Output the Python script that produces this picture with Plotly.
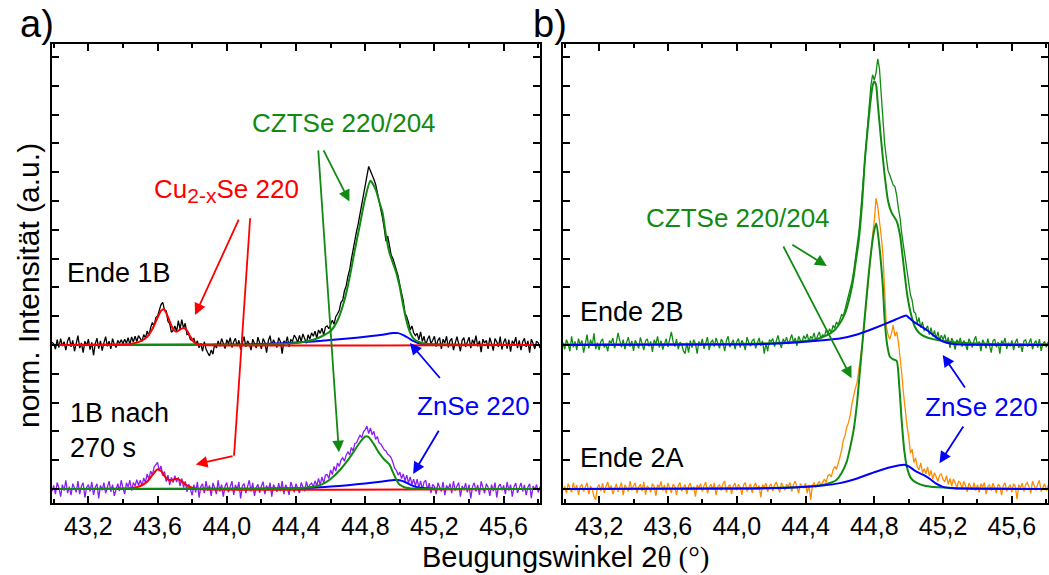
import numpy as np
import plotly.graph_objects as go

# ---------------- data ----------------
TT_START = 42.99     # 2theta of first measured point (deg)
TT_STEP = 0.01       # measurement step (deg)
OFFSET_TOP = 5.0     # vertical offset of upper curves (a.u.)
OFFSET_BOTTOM = 0.0

X_TICK_VALUES = [43.2, 43.6, 44.0, 44.4, 44.8, 45.2, 45.6]
X_TICK_LABELS = ["43,2", "43,6", "44,0", "44,4", "44,8", "45,2", "45,6"]

# Ende 1B, measured (normalised)
ende1b_meas = [
    0.09,
    0.04, -0.15, 0.18, -0.09, 0.22, -0.04, 0.11, -0.18, 0.14, 0.27,
    -0.07, 0.16, -0.22, 0.05, 0.32, -0.11, 0.07, -0.27, 0.13, -0.04,
    0.20, -0.16, 0.09, -0.36, 0.04, 0.23, -0.13, 0.14, -0.20, 0.07,
    0.29, -0.05, 0.13, -0.14, 0.22, 0.02, -0.09, 0.16, 0.05, 0.18,
    0.04, 0.20, 0.06, 0.25, 0.02, 0.28, 0.10, 0.30, 0.12, 0.32,
    0.22, 0.12, 0.36, 0.24, 0.48, 0.32, 0.60, 0.78, 0.66, 0.95,
    1.00, 1.18, 1.40, 1.48, 1.22, 1.18, 0.82, 0.74, 0.44, 0.50,
    0.66, 0.46, 0.84, 0.55, 0.88, 0.58, 0.75, 0.36, 0.38, 0.18,
    0.16, 0.22, 0.02, 0.14, -0.10, 0.05, -0.22, 0.11, -0.14, -0.27,
    -0.38, -0.18, -0.32, 0.04, -0.11, 0.14, -0.05, 0.22, 0.07, -0.13,
    0.18, 0.04, 0.25, -0.09, 0.11, 0.23, -0.04, 0.16, -0.16, 0.09,
    0.29, -0.07, 0.14, 0.04, -0.18, 0.20, 0.07, -0.11, 0.27, 0.02,
    -0.14, 0.22, 0.09, -0.27, 0.14, 0.32, -0.04, 0.18, 0.05, -0.09,
    0.25, 0.11, -0.30, 0.14, 0.04, 0.29, -0.07, 0.18, 0.13, 0.34,
    0.24, 0.08, 0.33, 0.12, 0.38, 0.18, 0.06, 0.35, 0.20, 0.42,
    0.30, 0.48, 0.24, 0.52, 0.40, 0.58, 0.34, 0.62, 0.66, 0.56,
    0.72, 0.86, 0.72, 0.98, 1.08, 1.20, 1.48, 1.55, 1.88, 2.05,
    2.38, 2.60, 2.98, 3.35, 3.58, 3.95, 4.22, 4.55, 4.88, 5.20,
    5.40, 5.85, 6.20, 6.05, 5.92, 5.75, 5.58, 5.30, 5.02, 4.75,
    4.42, 4.05, 3.60, 3.78, 3.45, 3.12, 3.00, 2.82, 2.65, 2.40,
    2.08, 1.85, 1.52, 1.10, 0.98, 0.78, 0.52, 0.66, 0.42, 0.32,
    0.40, 0.18, 0.45, 0.12, 0.30, -0.02, 0.20, 0.32, 0.04, 0.16,
    0.30, -0.06, 0.16, 0.25, -0.14, 0.20, 0.06, 0.30, -0.09, 0.14,
    0.23, -0.18, 0.11, 0.29, 0.04, -0.22, 0.16, 0.25, -0.07, 0.13,
    0.27, -0.11, 0.18, 0.04, 0.32, -0.05, 0.14, -0.25, 0.20, 0.07,
    0.16, -0.14, 0.25, 0.05, -0.20, 0.22, 0.11, -0.07, 0.29, -0.16,
    0.09, 0.22, -0.13, 0.18, -0.23, 0.14, 0.04, 0.27, -0.11, 0.16,
    -0.18, 0.11, 0.23, -0.07, 0.14, -0.27, 0.20, 0.05, -0.14, 0.13,
    0.07, -0.11,
]

# 1B nach 270 s, measured
nach_meas = [
    -0.08,
    0.12, -0.18, 0.22, 0.03, -0.27, 0.15, -0.06, 0.30, -0.15, 0.08,
    -0.22, 0.18, 0.00, -0.12, 0.27, -0.18, 0.09, 0.21, -0.30, 0.05,
    0.15, -0.09, 0.24, -0.21, 0.06, 0.18, -0.33, 0.12, -0.05, 0.22,
    -0.15, 0.08, 0.27, -0.10, 0.15, -0.24, 0.03, 0.18, -0.08, 0.30,
    0.03, -0.18, 0.21, 0.07, 0.30, -0.06, 0.22, 0.10, 0.32, 0.12,
    0.30, 0.10, 0.38, 0.22, 0.52, 0.34, 0.62, 0.48, 0.76, 0.85,
    0.92, 0.62, 0.80, 0.46, 0.60, 0.25, 0.48, 0.14, 0.40, 0.22,
    0.46, 0.24, 0.40, 0.10, 0.36, 0.05, 0.26, -0.10, 0.16, -0.02,
    -0.22, 0.15, -0.12, 0.24, -0.30, 0.08, 0.18, -0.15, 0.27, -0.06,
    0.12, -0.24, 0.21, 0.03, -0.18, 0.30, -0.09, 0.15, -0.27, 0.09,
    0.22, -0.12, 0.06, 0.27, -0.21, 0.14, -0.03, 0.24, -0.33, 0.10,
    0.18, -0.15, 0.08, 0.30, -0.09, 0.21, -0.24, 0.05, 0.16, -0.14,
    0.09, 0.25, -0.18, 0.12, -0.06, 0.22, -0.27, 0.15, 0.03, -0.10,
    0.20, -0.08, 0.27, -0.18, 0.14, 0.02, -0.21, 0.24, 0.06, -0.12,
    0.18, 0.02, -0.15, 0.22, 0.08, -0.08, 0.26, 0.03, 0.14, 0.20,
    0.08, 0.28, 0.10, 0.36, 0.14, 0.42, 0.20, 0.48, 0.50, 0.36,
    0.66, 0.50, 0.78, 0.62, 0.90, 0.78, 1.00, 1.08, 0.96, 1.18,
    1.28, 1.18, 1.44, 1.32, 1.58, 1.60, 1.74, 1.86, 1.78, 1.98,
    2.06, 2.18, 1.92, 2.12, 1.88, 2.00, 1.72, 1.82, 1.60, 1.56,
    1.46, 1.36, 1.32, 1.20, 1.16, 1.08, 0.92, 0.72, 0.64, 0.48,
    0.58, 0.36, 0.52, 0.28, 0.48, 0.20, 0.42, 0.16, 0.34, 0.10,
    0.34, 0.04, 0.28, -0.02, 0.24, 0.30, -0.04, 0.20, -0.14, 0.16,
    0.08, -0.18, 0.21, 0.03, -0.09, 0.24, -0.22, 0.12, 0.00, 0.18,
    -0.15, 0.27, -0.06, 0.09, 0.22, -0.27, 0.10, -0.03, 0.20, -0.12,
    0.15, -0.33, 0.08, 0.21, -0.09, 0.14, -0.21, 0.26, 0.03, -0.15,
    0.18, 0.06, -0.24, 0.15, -0.08, 0.22, -0.30, 0.09, 0.16, -0.05,
    0.12, -0.18, 0.24, -0.06, 0.15, -0.27, 0.08, 0.20, -0.14, 0.03,
    0.21, -0.09, 0.14, -0.22, 0.06, 0.18, -0.32, 0.10, -0.03, 0.15,
    -0.12, 0.08,
]

# Ende 2B, measured
ende2b_meas = [
    0.08,
    -0.15, 0.18, 0.03, -0.22, 0.30, -0.08, 0.12, -0.18, 0.22, 0.00,
    0.15, -0.27, 0.09, 0.36, -0.12, 0.18, -0.03, 0.40, -0.15, 0.08,
    -0.18, 0.12, 0.21, -0.09, 0.03, -0.22, 0.15, 0.06, 0.24, -0.12,
    0.08, 0.42, 0.15, -0.08, 0.18, -0.15, 0.09, 0.27, -0.06, 0.14,
    -0.21, 0.16, 0.04, -0.12, 0.26, 0.08, -0.18, 0.14, 0.21, -0.05,
    0.12, -0.24, 0.18, 0.03, 0.30, -0.09, 0.15, -0.16, 0.06, 0.22,
    -0.08, 0.18, 0.45, 0.12, -0.06, 0.20, -0.15, 0.09, 0.03, -0.21,
    -0.30, 0.08, -0.27, 0.15, -0.09, 0.18, 0.04, -0.30, 0.12, -0.03,
    0.21, -0.14, 0.08, 0.27, -0.18, 0.10, 0.16, -0.06, 0.24, 0.03,
    -0.12, 0.20, 0.09, -0.22, 0.14, 0.30, -0.08, 0.06, 0.18, -0.15,
    0.10, 0.22, -0.09, 0.16, 0.03, -0.18, 0.27, 0.08, -0.05, 0.15,
    0.20, -0.12, 0.09, 0.24, -0.03, 0.14, -0.30, 0.06, -0.22, 0.18,
    0.12, 0.22, -0.06, 0.15, 0.33, 0.05, -0.10, 0.21, 0.09, 0.27,
    0.03, 0.18, 0.36, 0.08, 0.24, -0.03, 0.30, 0.15, 0.10, 0.32,
    0.20, 0.38, 0.10, 0.30, 0.22, 0.42, 0.12, 0.32, 0.45, 0.22,
    0.36, 0.28, 0.52, 0.38, 0.56, 0.42, 0.68, 0.58, 0.80, 0.70,
    0.90, 1.05, 1.00, 1.25, 1.45, 1.65, 1.90, 2.20, 2.55, 3.00,
    3.45, 3.90, 4.55, 5.25, 6.20, 6.80, 7.55, 8.30, 9.00, 9.38,
    9.20, 9.45, 9.93, 9.60, 8.70, 7.90, 7.00, 6.50, 6.05, 5.90,
    5.75, 5.55, 5.50, 5.20, 4.75, 4.40, 3.85, 3.40, 2.95, 2.50,
    2.10, 1.75, 1.55, 1.15, 1.10, 0.75, 0.95, 0.60, 0.80, 0.50,
    0.55, 0.66, 0.36, 0.60, 0.30, 0.50, 0.22, 0.45, 0.16, 0.34,
    0.18, 0.36, 0.06, 0.26, -0.10, 0.24, 0.10, -0.16, 0.18, 0.06,
    0.24, -0.06, 0.15, 0.03, -0.18, 0.21, 0.09, -0.09, 0.16, 0.30,
    -0.03, 0.12, -0.22, 0.18, 0.06, -0.12, 0.22, 0.02, -0.27, 0.14,
    0.20, -0.08, 0.10, -0.30, 0.15, 0.03, 0.24, -0.14, 0.08, -0.05,
    0.16, -0.18, 0.09, 0.21, -0.10, 0.04, -0.24, 0.14, 0.18, -0.06,
    0.09, 0.22, -0.15, 0.06, 0.15, -0.09, 0.20, -0.21, 0.03, 0.12,
    -0.08, 0.10,
]

# Ende 2A, measured
ende2a_meas = [
    -0.06,
    0.09, -0.15, 0.18, 0.03, -0.12, 0.22, -0.05, 0.14, -0.21, 0.08,
    0.16, -0.09, 0.05, 0.21, -0.18, 0.10, 0.00, -0.27, -0.38, 0.06,
    0.15, -0.08, 0.20, -0.14, 0.09, 0.24, -0.03, 0.12, -0.18, 0.05,
    0.18, -0.10, 0.08, 0.22, -0.22, 0.14, 0.03, -0.09, 0.27, -0.05,
    0.12, 0.21, -0.15, 0.06, 0.16, -0.08, 0.24, -0.20, 0.10, 0.03,
    -0.12, 0.18, 0.08, -0.24, 0.15, 0.05, 0.26, -0.06, 0.14, -0.16,
    0.21, 0.02, -0.14, 0.16, 0.09, -0.21, 0.12, 0.22, -0.08, 0.05,
    0.15, -0.18, 0.10, 0.20, -0.05, 0.08, -0.27, 0.14, 0.03, 0.18,
    -0.09, 0.12, 0.24, -0.15, 0.06, 0.16, -0.03, 0.21, -0.22, 0.09,
    0.14, -0.06, 0.18, 0.27, -0.12, 0.08, 0.15, -0.18, 0.10, 0.20,
    -0.05, 0.16, 0.06, -0.21, 0.14, 0.22, -0.09, 0.03, 0.18, -0.14,
    0.09, 0.21, -0.03, 0.12, -0.30, 0.15, 0.05, 0.20, -0.10, 0.08,
    0.18, -0.08, 0.14, 0.24, 0.03, -0.12, 0.21, 0.09, -0.05, 0.16,
    0.08, 0.22, -0.09, 0.15, 0.27, 0.06, -0.15, 0.18, 0.12, 0.03,
    0.20, -0.15, 0.14, -0.38, 0.12, 0.22, 0.06, 0.16, 0.26, 0.12,
    0.24, 0.34, 0.22, 0.46, 0.50, 0.42, 0.66, 0.78, 0.68, 0.95,
    1.10, 1.35, 1.70, 1.85, 2.15, 2.30, 2.55, 2.95, 3.25, 3.50,
    3.70, 4.10, 4.50, 5.00, 5.60, 6.30, 7.00, 7.60, 8.20, 8.80,
    9.30, 10.09, 9.80, 9.34, 8.80, 8.18, 6.80, 5.64, 5.35, 5.20,
    5.40, 5.69, 5.30, 5.45, 5.10, 4.60, 4.00, 3.30, 2.70, 2.20,
    1.82, 1.24, 1.38, 0.92, 1.08, 0.76, 0.66, 0.90, 0.56, 0.70,
    0.52, 0.76, 0.44, 0.64, 0.34, 0.56, 0.42, 0.26, 0.48, 0.52,
    0.32, 0.24, 0.46, 0.16, 0.36, 0.10, 0.34, 0.22, 0.04, 0.26,
    0.22, 0.00, 0.26, 0.12, -0.10, 0.20, 0.08, -0.03, 0.22, -0.06,
    0.15, -0.12, 0.18, 0.06, 0.22, -0.18, 0.09, 0.14, -0.06, 0.20,
    0.03, -0.15, 0.16, 0.09, -0.22, 0.12, 0.21, -0.08, 0.05, 0.15,
    -0.12, 0.18, 0.08, -0.36, 0.14, 0.03, 0.20, -0.09, 0.15, 0.22,
    0.06, -0.15, 0.27, 0.09, -0.05, 0.16, 0.30, -0.10, 0.08, 0.18,
    -0.06, 0.12,
]

# ---- fitted components (2theta, intensity) ----
e1b_cu_x = [42.99, 43.40, 43.45, 43.50, 43.54, 43.57, 43.60, 43.62, 43.635, 43.65, 43.67,
            43.69, 43.71, 43.73, 43.75, 43.77, 43.79, 43.81, 43.83, 43.86, 45.81]
e1b_cu_y = [0, 0.01, 0.04, 0.12, 0.28, 0.55, 0.95, 1.18, 1.24, 1.12, 0.82,
            0.55, 0.46, 0.53, 0.59, 0.50, 0.28, 0.10, 0.03, 0, 0]

e1b_czts_x = [42.99, 44.20, 44.30, 44.40, 44.50, 44.55, 44.60, 44.64, 44.68, 44.71, 44.74,
              44.77, 44.80, 44.83, 44.86, 44.88, 44.90, 44.92, 44.94, 44.96, 44.98, 45.00,
              45.02, 45.04, 45.06, 45.08, 45.11, 45.15, 45.25, 45.81]
e1b_czts_y = [0, 0.01, 0.03, 0.07, 0.18, 0.30, 0.48, 0.85, 1.55, 2.35, 3.30,
              4.20, 5.10, 5.70, 5.40, 5.00, 4.60, 3.80, 3.20, 2.85, 2.50, 2.00,
              1.35, 0.80, 0.42, 0.22, 0.10, 0.04, 0.01, 0]

e1b_znse_x = [42.99, 44.00, 44.20, 44.40, 44.50, 44.60, 44.70, 44.80, 44.90, 44.96, 44.99,
              45.02, 45.05, 45.08, 45.12, 45.20, 45.81]
e1b_znse_y = [0, 0.01, 0.03, 0.08, 0.12, 0.17, 0.22, 0.28, 0.35, 0.41, 0.41,
              0.34, 0.24, 0.13, 0.04, 0.01, 0]

nach_cu_x = [42.99, 43.40, 43.46, 43.50, 43.54, 43.57, 43.60, 43.62, 43.64, 43.66, 43.68,
             43.70, 43.72, 43.74, 43.77, 43.80, 43.83, 45.81]
nach_cu_y = [0, 0.01, 0.04, 0.10, 0.25, 0.48, 0.68, 0.62, 0.45, 0.32, 0.30,
             0.34, 0.34, 0.26, 0.12, 0.04, 0, 0]

nach_czts_x = [42.99, 44.30, 44.45, 44.52, 44.57, 44.62, 44.66, 44.70, 44.74, 44.77, 44.80,
               44.82, 44.85, 44.88, 44.91, 44.94, 44.96, 44.98, 45.00, 45.03, 45.08, 45.81]
nach_czts_y = [0, 0.01, 0.04, 0.10, 0.22, 0.45, 0.70, 1.00, 1.35, 1.62, 1.82,
               1.80, 1.55, 1.25, 1.02, 0.85, 0.58, 0.32, 0.14, 0.05, 0.01, 0]

nach_znse_x = [42.99, 44.30, 44.50, 44.60, 44.70, 44.80, 44.90, 44.97, 45.00, 45.03, 45.06,
               45.10, 45.15, 45.25, 45.81]
nach_znse_y = [0, 0.01, 0.04, 0.08, 0.13, 0.19, 0.26, 0.31, 0.30, 0.24, 0.15,
               0.06, 0.02, 0, 0]

e2b_czts_x = [42.99, 44.00, 44.20, 44.35, 44.45, 44.52, 44.57, 44.60, 44.63, 44.67, 44.69,
              44.71, 44.73, 44.745, 44.76, 44.775, 44.79, 44.80, 44.81, 44.82, 44.84, 44.86,
              44.88, 44.90, 44.93, 44.95, 44.97, 44.99, 45.01, 45.035, 45.06, 45.09, 45.14,
              45.22, 45.35, 45.55, 45.81]
e2b_czts_y = [0.01, 0.03, 0.06, 0.11, 0.18, 0.32, 0.52, 0.75, 1.10, 2.02, 2.80,
              3.65, 5.00, 6.42, 7.40, 8.30, 9.00, 9.15, 9.05, 8.40, 7.10, 5.90,
              5.00, 4.60, 4.30, 3.80, 2.80, 1.80, 1.15, 0.64, 0.42, 0.30, 0.20,
              0.12, 0.06, 0.03, 0.02]

e2b_znse_x = [42.99, 44.00, 44.20, 44.40, 44.50, 44.60, 44.70, 44.80, 44.90, 44.95, 44.985,
              45.00, 45.03, 45.07, 45.12, 45.16, 45.20, 45.25, 45.30, 45.81]
e2b_znse_y = [0, 0.01, 0.04, 0.11, 0.16, 0.22, 0.36, 0.58, 0.82, 0.95, 1.02,
              0.95, 0.80, 0.65, 0.45, 0.26, 0.12, 0.04, 0.01, 0]

e2a_czts_x = [42.99, 44.00, 44.20, 44.40, 44.50, 44.55, 44.58, 44.61, 44.64, 44.66, 44.68,
              44.70, 44.715, 44.73, 44.745, 44.765, 44.785, 44.80, 44.812, 44.83, 44.85,
              44.86, 44.875, 44.89, 44.91, 44.93, 44.945, 44.96, 44.975, 44.99, 45.01,
              45.03, 45.07, 45.12, 45.25, 45.50, 45.81]
e2a_czts_y = [0, 0.01, 0.03, 0.07, 0.14, 0.22, 0.31, 0.55, 0.95, 1.45, 2.05,
              3.00, 4.00, 5.00, 6.00, 7.30, 8.40, 9.00, 9.22, 8.40, 7.00,
              5.90, 5.00, 4.60, 4.50, 4.45, 3.60, 2.30, 1.30, 0.75, 0.40,
              0.27, 0.15, 0.08, 0.03, 0.01, 0]

e2a_znse_x = [42.99, 44.00, 44.30, 44.50, 44.60, 44.70, 44.80, 44.90, 44.975, 45.00, 45.04,
              45.08, 45.12, 45.16, 45.20, 45.26, 45.81]
e2a_znse_y = [0, 0.01, 0.04, 0.12, 0.20, 0.36, 0.58, 0.76, 0.84, 0.78, 0.62,
              0.50, 0.36, 0.18, 0.07, 0.02, 0]

# ---------------- styling ----------------
BLACK = "#000000"
RED = "#ff0000"
GREEN = "#118a11"
BLUE = "#0000ff"
VIOLET = "#8a1cf5"
ORANGE = "#ff8c00"
FONT = "Liberation Sans, Arial, sans-serif"


def tt(values):
    return np.round(TT_START + TT_STEP * np.arange(len(values)), 2)


def add(fig, x, y, offset, color, width, panel, smooth=False):
    xa, ya = ("x", "y") if panel == "a" else ("x2", "y2")
    line = dict(color=color, width=width)
    if smooth:
        line.update(shape="spline", smoothing=0.6)
    fig.add_trace(go.Scatter(x=list(x), y=list(np.asarray(y, dtype=float) + offset),
                             mode="lines", line=line, xaxis=xa, yaxis=ya,
                             hoverinfo="skip", showlegend=False))


fig = go.Figure()

# panel a, upper (Ende 1B)
add(fig, tt(ende1b_meas), ende1b_meas, OFFSET_TOP, BLACK, 1.3, "a")
add(fig, e1b_znse_x, e1b_znse_y, OFFSET_TOP, BLUE, 2, "a", True)
add(fig, e1b_czts_x, e1b_czts_y, OFFSET_TOP, GREEN, 2, "a", True)
add(fig, e1b_cu_x, e1b_cu_y, OFFSET_TOP, RED, 2, "a", True)
# panel a, lower (1B nach 270 s)
add(fig, tt(nach_meas), nach_meas, OFFSET_BOTTOM, VIOLET, 1.3, "a")
add(fig, nach_znse_x, nach_znse_y, OFFSET_BOTTOM, BLUE, 2, "a", True)
add(fig, nach_cu_x, nach_cu_y, OFFSET_BOTTOM, RED, 2, "a", True)
add(fig, nach_czts_x, nach_czts_y, OFFSET_BOTTOM, GREEN, 2, "a", True)
# panel b, upper (Ende 2B)
add(fig, tt(ende2b_meas), ende2b_meas, OFFSET_TOP, GREEN, 1.3, "b")
add(fig, e2b_czts_x, e2b_czts_y, OFFSET_TOP, GREEN, 2, "b", True)
# panel b, lower (Ende 2A)
add(fig, tt(ende2a_meas), ende2a_meas, OFFSET_BOTTOM, ORANGE, 1.3, "b")
add(fig, e2a_czts_x, e2a_czts_y, OFFSET_BOTTOM, GREEN, 2, "b", True)
add(fig, e2b_znse_x, e2b_znse_y, OFFSET_TOP, BLUE, 2, "b", True)
add(fig, e2a_znse_x, e2a_znse_y, OFFSET_BOTTOM, BLUE, 2, "b", True)

W, H = 1049, 575
X_RANGE = [42.99, 45.81]
Y_RANGE = [-0.49, 15.45]

xaxis_common = dict(
    range=X_RANGE, showline=True, linewidth=2, linecolor=BLACK, mirror="allticks",
    ticks="inside", ticklen=7, tickwidth=1.5, tickcolor=BLACK,
    tickvals=X_TICK_VALUES, ticktext=X_TICK_LABELS,
    tickfont=dict(family=FONT, size=25, color=BLACK),
    showgrid=False, zeroline=False, fixedrange=True,
    minor=dict(dtick=0.2, tick0=43.0, ticks="inside", ticklen=4, tickwidth=1.5,
               tickcolor=BLACK, showgrid=False),
)
yaxis_common = dict(
    range=Y_RANGE, showline=True, linewidth=2, linecolor=BLACK, mirror="allticks",
    ticks="inside", ticklen=7, tickwidth=1.5, tickcolor=BLACK, dtick=1, tick0=0,
    showticklabels=False, showgrid=False, zeroline=False, fixedrange=True,
)
ydom = [1 - 503 / H, 1 - 44 / H]

fig.update_layout(
    width=W, height=H, margin=dict(l=0, r=0, t=0, b=0),
    paper_bgcolor="white", plot_bgcolor="white", showlegend=False,
    font=dict(family=FONT, color=BLACK),
    xaxis=dict(xaxis_common, domain=[52 / W, 540 / W], anchor="y"),
    yaxis=dict(yaxis_common, domain=ydom, anchor="x"),
    xaxis2=dict(xaxis_common, domain=[563 / W, 1048 / W], anchor="y2"),
    yaxis2=dict(yaxis_common, domain=ydom, anchor="x2"),
)

ann = []


def text(s, x, y, panel, color, size=26, xanchor="center", yanchor="middle"):
    xr, yr = ("x", "y") if panel == "a" else ("x2", "y2")
    ann.append(dict(text=s, x=x, y=y, xref=xr, yref=yr, showarrow=False,
                    xanchor=xanchor, yanchor=yanchor, align="left",
                    font=dict(family=FONT, size=size, color=color)))


def arrow(x, y, ax, ay, panel, color):
    xr, yr = ("x", "y") if panel == "a" else ("x2", "y2")
    ann.append(dict(text="", x=x, y=y, ax=ax, ay=ay, xref=xr, yref=yr, axref=xr, ayref=yr,
                    showarrow=True, arrowhead=2, arrowsize=1.3, arrowwidth=1.8,
                    arrowcolor=color, standoff=0, startstandoff=0))


# panel a labels
text("Ende 1B", 43.065, 7.5, "a", BLACK, 27, xanchor="left")
text("1B nach<br>270 s", 43.08, 2.03, "a", BLACK, 27, xanchor="left")
text("CZTSe 220/204", 44.678, 12.71, "a", GREEN)
text('Cu<sub><span style="font-size:21px">2-x</span></sub>Se 220', 44.0, 10.35, "a", RED)
text("ZnSe 220", 45.426, 2.88, "a", BLUE)
arrow(44.709, 9.98, 44.555, 11.81, "a", GREEN)
arrow(44.648, 1.27, 44.528, 11.81, "a", GREEN)
arrow(43.817, 6.04, 44.073, 9.40, "a", RED)
arrow(43.821, 0.85, 44.042, 1.15, "a", RED)
arrow(45.058, 5.07, 45.239, 3.80, "a", BLUE)
arrow(45.077, 0.52, 45.230, 2.07, "a", BLUE)

# panel b labels
text("Ende 2B", 43.08, 6.15, "b", BLACK, 27, xanchor="left")
text("Ende 2A", 43.08, 1.08, "b", BLACK, 27, xanchor="left")
text("ZnSe 220", 45.424, 2.85, "b", BLUE)
text("CZTSe 220/204", 44.007, 9.41, "b", GREEN)
arrow(44.524, 7.74, 44.315, 8.51, "b", GREEN)
arrow(44.668, 3.84, 44.267, 8.47, "b", GREEN)
arrow(45.198, 4.65, 45.333, 3.47, "b", BLUE)
arrow(45.179, 0.89, 45.323, 2.22, "b", BLUE)

# panel letters and axis titles
ann.append(dict(text="a)", x=37 / W, y=1 - 24 / H, xref="paper", yref="paper",
                showarrow=False, xanchor="center", yanchor="middle",
                font=dict(family=FONT, size=38, color=BLACK)))
ann.append(dict(text="b)", x=550 / W, y=1 - 24 / H, xref="paper", yref="paper",
                showarrow=False, xanchor="center", yanchor="middle",
                font=dict(family=FONT, size=38, color=BLACK)))
ann.append(dict(text="norm. Intensität (a.u.)", x=28 / W, y=1 - 286 / H,
                xref="paper", yref="paper", showarrow=False, textangle=-90,
                xanchor="center", yanchor="middle",
                font=dict(family=FONT, size=30, color=BLACK)))
ann.append(dict(text='Beugungswinkel 2<span style="font-family:Liberation Serif">θ (°)</span>',
                x=565 / W, y=1 - 557 / H, xref="paper", yref="paper", showarrow=False,
                xanchor="center", yanchor="middle",
                font=dict(family=FONT, size=29, color=BLACK)))

fig.update_layout(annotations=ann)

# straight part of the second Cu2-xSe pointer
fig.add_shape(type="line", x0=44.135, y0=9.40, x1=44.042, y1=1.15, xref="x", yref="y",
              line=dict(color=RED, width=1.8))

fig.write_html("out.html")
